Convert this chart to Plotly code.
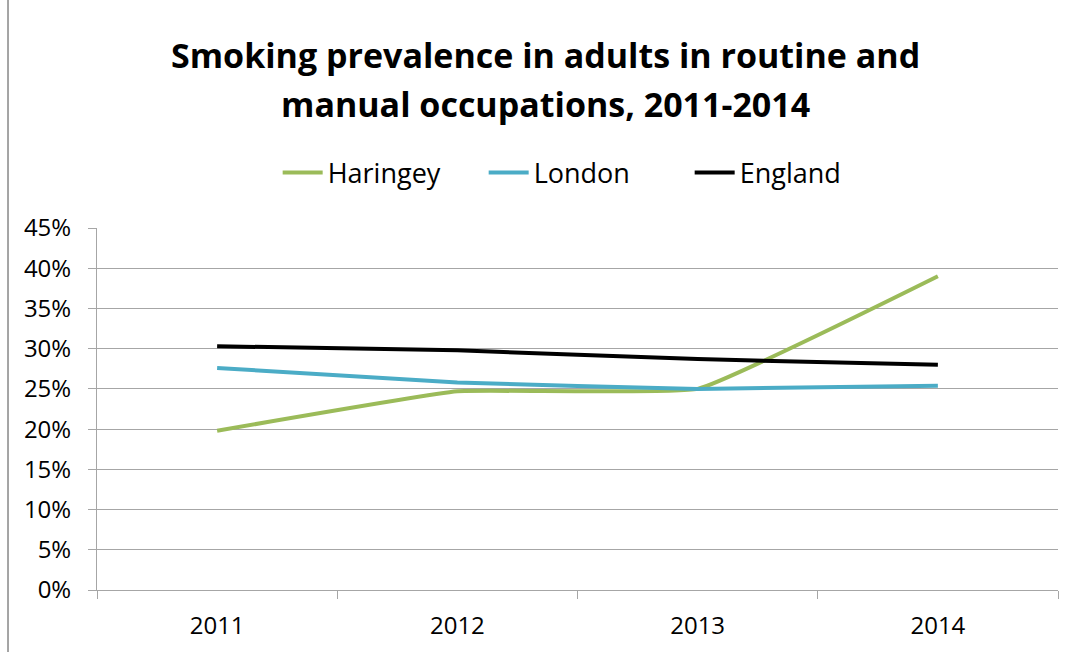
import plotly.graph_objects as go

years = ["2011", "2012", "2013", "2014"]
haringey = [0.198, 0.247, 0.250, 0.390]
london = [0.276, 0.258, 0.250, 0.254]
england = [0.303, 0.298, 0.287, 0.280]

title_lines = ["Smoking prevalence in adults in routine and",
               "manual occupations, 2011-2014"]

FONT = "Open Sans"
fig = go.Figure()
for name, vals, col in [("Haringey", haringey, "#9BBB59"),
                        ("London", london, "#4BACC6"),
                        ("England", england, "#000000")]:
    fig.add_trace(go.Scatter(x=years, y=vals, name=name, mode="lines",
                             line=dict(color=col, width=4, shape="spline", smoothing=0.3)))

fig.update_layout(
    width=1072, height=652,
    margin=dict(l=97, r=14, t=228, b=62),
    paper_bgcolor="white", plot_bgcolor="white",
    font=dict(family=FONT, color="#000000"),
    legend=dict(orientation="h", x=0.188, xanchor="left", y=1.152, yanchor="middle",
                font=dict(family=FONT, size=27), itemwidth=40, traceorder="normal",
                entrywidth=151, entrywidthmode="pixels"),
    showlegend=True,
)
for txt, yp in zip(title_lines, [1.478, 1.343]):
    fig.add_annotation(text="<b>" + txt + "</b>", xref="paper", yref="paper",
                       x=0.467, y=yp, xanchor="center", yanchor="middle", showarrow=False,
                       font=dict(family=FONT, size=34, color="#000000"))
fig.update_yaxes(range=[0, 0.45], dtick=0.05, tickformat=".0%",
                 showgrid=True, gridcolor="#A6A6A6", gridwidth=1,
                 showline=True, linecolor="#A6A6A6", linewidth=1,
                 ticks="outside", ticklen=8, tickcolor="#A6A6A6",
                 ticklabelstandoff=12,
                 tickfont=dict(family=FONT, size=24, color="#000000"),
                 zeroline=False, fixedrange=True)
fig.update_xaxes(type="category", range=[-0.5, 3.5], tickson="boundaries",
                 showgrid=False, showline=True, linecolor="#A6A6A6", linewidth=1,
                 ticks="outside", ticklen=8, tickcolor="#A6A6A6",
                 ticklabelstandoff=14,
                 tickfont=dict(family=FONT, size=24, color="#000000"),
                 fixedrange=True)
fig.add_shape(type="rect", xref="paper", yref="paper",
              x0=-0.0926, x1=1.03, y0=-0.3, y1=1.7,
              line=dict(color="#888888", width=1.5), fillcolor="rgba(0,0,0,0)", layer="below")
fig.write_html("out.html")
